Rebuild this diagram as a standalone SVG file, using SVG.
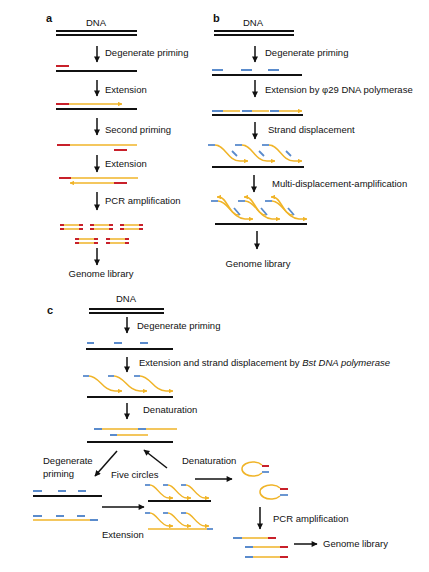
<svg xmlns="http://www.w3.org/2000/svg" width="429" height="572" viewBox="0 0 429 572">
<defs>
<style>
text{font-family:"Liberation Sans",Arial,sans-serif;font-size:9.5px;fill:#111}
.pl{font-weight:bold;font-size:11px}
.dna{stroke:#111;stroke-width:1.8;fill:none}
.y{stroke:#f0b428;stroke-width:1.5;fill:none}
.r{stroke:#c8202a;stroke-width:2;fill:none}
.b{stroke:#5a8bcc;stroke-width:1.8;fill:none}
.ar{stroke:#111;stroke-width:1.5;fill:none;marker-end:url(#ah)}
.ya{marker-end:url(#yh)}
</style>
<marker id="ah" viewBox="0 0 10 10" refX="9" refY="5" markerWidth="6.5" markerHeight="6" markerUnits="userSpaceOnUse" orient="auto"><path d="M0,0 L10,5 L0,10 Z" fill="#111"/></marker>
<marker id="yh" viewBox="0 0 10 10" refX="9" refY="5" markerWidth="4.5" markerHeight="4.5" markerUnits="userSpaceOnUse" orient="auto"><path d="M0,0 L10,5 L0,10 Z" fill="#f0b428"/></marker>
<g id="sd"><path class="b" d="M0,0 H7"/><path class="y ya" d="M7,0 C17,0 20,16 32,16 H40"/><path class="b" d="M24,6 L29,11"/></g>
<g id="mda"><path class="b" d="M0,0 H7"/><path class="y ya" d="M7,0 C17,0 22,18 34,18 H42"/><path class="y ya" d="M28,14 C18,14 16,-4 8,-4 H6"/><path class="b" d="M23,7 L29,14"/></g>
<g id="cs"><path class="b" d="M0,0 H6"/><path class="y ya" d="M6,0 C16,0 20,15 32,15 H39"/></g>
<g id="cs2"><path class="b" d="M0,0 H5"/><path class="y ya" d="M5,0 C12,0 15,13 24,13 H28"/></g>
<g id="frag"><path class="y" d="M3,0 H20 M3,4 H20"/><path class="r" d="M0,0 H4 M0,4 H4 M19,0 H23 M19,4 H23"/></g>
</defs>

<g id="panel-a">
<text class="pl" x="46" y="22">a</text>
<g id="a-dna"><text x="96" y="26" text-anchor="middle">DNA</text><path class="dna" d="M56,31 H137 M56,35 H137"/></g>
<g id="a-s1"><path class="r" d="M56,66 H69"/><path class="dna" d="M56,71 H137"/></g>
<g id="a-s2"><path class="r" d="M56,104 H69"/><path class="y ya" d="M69,104 H122"/><path class="dna" d="M56,109 H137"/></g>
<g id="a-s3"><path class="r" d="M57,145 H70"/><path class="y" d="M70,145 H137"/><path class="r" d="M114,150 H127"/></g>
<g id="a-s4"><path class="r" d="M59,178 H71"/><path class="y" d="M71,178 H138"/><path class="y ya" d="M114,183 H70"/><path class="r" d="M114,183 H127"/></g>
<g id="a-frags"><use href="#frag" x="60" y="225"/><use href="#frag" x="90" y="225"/><use href="#frag" x="120" y="225"/><use href="#frag" x="75" y="239"/><use href="#frag" x="106" y="239"/></g>
<text x="101" y="277" text-anchor="middle">Genome library</text>
</g>

<g id="panel-b">
<text class="pl" x="213" y="22">b</text>
<g id="b-dna"><text x="253" y="26" text-anchor="middle">DNA</text><path class="dna" d="M214,31 H294 M214,35 H294"/></g>
<g id="b-s1"><path class="b" d="M212,70 H223 M241,70 H252 M268,70 H279"/><path class="dna" d="M212,75 H302"/></g>
<g id="b-s2"><path class="b" d="M212,111 H223 M242,111 H252 M270,111 H279"/><path class="y ya" d="M223,111 H240 M252,111 H269 M279,111 H302"/><path class="dna" d="M212,115 H303"/></g>
<g id="b-s3"><use href="#sd" x="208" y="145"/><use href="#sd" x="235" y="145"/><use href="#sd" x="262" y="145"/><path class="dna" d="M212,167 H304"/></g>
<g id="b-s4"><use href="#mda" x="211" y="201"/><use href="#mda" x="238" y="201"/><use href="#mda" x="265" y="201"/><path class="dna" d="M215,224 H307"/></g>
<text x="258" y="267" text-anchor="middle">Genome library</text>
</g>

<g id="panel-c">
<text class="pl" x="47" y="314">c</text>
<g id="c-dna"><text x="126" y="302" text-anchor="middle">DNA</text><path class="dna" d="M89,309 H164 M89,313 H164"/></g>
<g id="c-s1"><path class="b" d="M87,343 H94 M114,343 H122 M140,343 H148"/><path class="dna" d="M86,349 H173"/></g>
<g id="c-s2"><use href="#cs" x="83" y="376"/><use href="#cs" x="108" y="376"/><use href="#cs" x="134" y="376"/><path class="dna" d="M87,397 H173"/></g>
<g id="c-den"><path class="b" d="M94,429 H102 M138,429 H146 M110,435 H117"/><path class="y" d="M102,429 H138 M146,429 H177 M117,435 H148"/><path class="dna" d="M87,442 H173"/></g>
<text x="43" y="464">Degenerate</text><text x="43" y="477">priming</text>
<text x="111" y="478">Five circles</text>
<text x="182" y="464">Denaturation</text>
<g id="c-left1"><path class="b" d="M33,491 H42 M58,491 H66 M78,491 H86"/><path class="dna" d="M33,496 H102"/></g>
<g id="c-left2"><path class="b" d="M33,516 H42 M56,516 H64 M77,516 H85 M90,520 H98"/><path class="y" d="M33,520 H90"/></g>
<text x="102" y="538">Extension</text>
<g id="c-right1"><use href="#cs2" x="145" y="485"/><use href="#cs2" x="163" y="485"/><use href="#cs2" x="181" y="485"/><path class="dna" d="M148,501 H211"/></g>
<g id="c-right2"><use href="#cs2" x="145" y="513"/><use href="#cs2" x="163" y="513"/><use href="#cs2" x="181" y="513"/><path class="y" d="M148,529 H207"/><path class="b" d="M207,529 H213"/></g>
<g id="c-circ1"><path class="y" d="M262,465 A11,7 0 1 0 262,473"/><path class="r" d="M262,466 H269"/><path class="b" d="M262,472 H269"/></g>
<g id="c-circ2"><path class="y" d="M280,488 A11,7 0 1 0 280,496"/><path class="r" d="M280,489 H288"/><path class="b" d="M280,495 H288"/></g>
<g id="c-pcr"><path class="b" d="M233,538 H242 M245,547 H253 M245,557 H253"/><path class="y" d="M242,538 H268 M253,547 H280 M253,557 H280"/><path class="r" d="M268,538 H276 M280,547 H288 M280,557 H288"/></g>
<text x="323" y="547">Genome library</text>
</g>

<g id="connectors">
<path class="ar" d="M97,46 V62"/><text x="105" y="56">Degenerate priming</text>
<path class="ar" d="M97,80 V96"/><text x="105" y="93">Extension</text>
<path class="ar" d="M97,118 V135"/><text x="105" y="133">Second priming</text>
<path class="ar" d="M97,155 V172"/><text x="105" y="167">Extension</text>
<path class="ar" d="M97,192 V210"/><text x="105" y="204">PCR amplification</text>
<path class="ar" d="M97,248 V265"/>
<path class="ar" d="M255,46 V62"/><text x="265" y="56">Degenerate priming</text>
<path class="ar" d="M255,80 V97"/><text x="265" y="93">Extension by φ29 DNA polymerase</text>
<path class="ar" d="M255,122 V139"/><text x="268" y="133">Strand displacement</text>
<path class="ar" d="M254,175 V192"/><text x="272" y="187">Multi-displacement-amplification</text>
<path class="ar" d="M257,231 V249"/>
<path class="ar" d="M127,317 V333"/><text x="137" y="329">Degenerate priming</text>
<path class="ar" d="M127,357 V372"/><text x="139" y="366">Extension and strand displacement by <tspan font-style="italic">Bst DNA polymerase</tspan></text>
<path class="ar" d="M127,403 V419"/><text x="143" y="413">Denaturation</text>
<path class="ar" d="M117,451 L95,476"/>
<path class="ar" d="M167,468 L144,450"/>
<path class="ar" d="M102,507 H144"/>
<path class="ar" d="M195,479 H232"/>
<path class="ar" d="M260,507 V529"/><text x="273" y="522">PCR amplification</text>
<path class="ar" d="M294,544 H317"/>
</g>
</svg>
